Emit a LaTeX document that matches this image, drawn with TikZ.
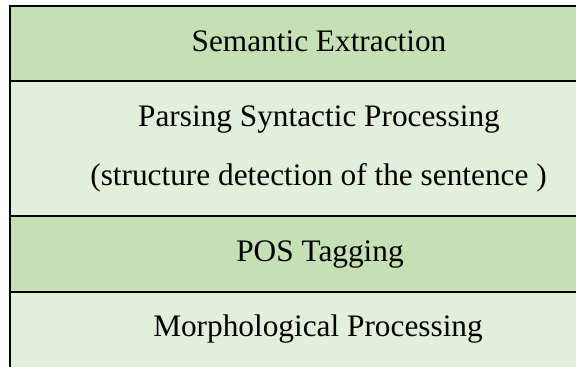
\documentclass[tikz,border=0pt]{standalone}
\usepackage{fontspec}
\setmainfont{Liberation Serif}
\definecolor{rowdark}{HTML}{C5E0B4}
\definecolor{rowlight}{HTML}{E2EFDA}
\begin{document}
\begin{tikzpicture}[x=1pt,y=1pt,
  txt/.style={anchor=base, font=\fontsize{31.3}{37}\selectfont, inner sep=0pt},
  rule/.style={line width=2pt, black}]
\useasboundingbox (0,0) rectangle (576,367);
\fill[white] (0,0) rectangle (576,367);
% row fills
\fill[rowdark]  (10,361) rectangle (576,286);
\fill[rowlight] (10,286) rectangle (576,151);
\fill[rowdark]  (10,151) rectangle (576,75);
\fill[rowlight] (10,75)  rectangle (576,0);
% rules
\draw[rule] (9,361) -- (576,361);
\draw[rule] (10,286) -- (576,286);
\draw[rule] (10,151) -- (576,151);
\draw[rule] (10,75) -- (576,75);
\draw[rule] (10,362) -- (10,0);
% texts
\node[txt] (sem) at (319,315) {Semantic Extraction};
\node[txt] (pars) at (319,240) {Parsing Syntactic Processing};
\node[txt] (struct) at (318.5,181) {(structure detection of the sentence )};
\node[txt] (pos) at (320,105) {POS Tagging};
\node[txt] (morph) at (318,30) {Morphological Processing};
\end{tikzpicture}
\end{document}
